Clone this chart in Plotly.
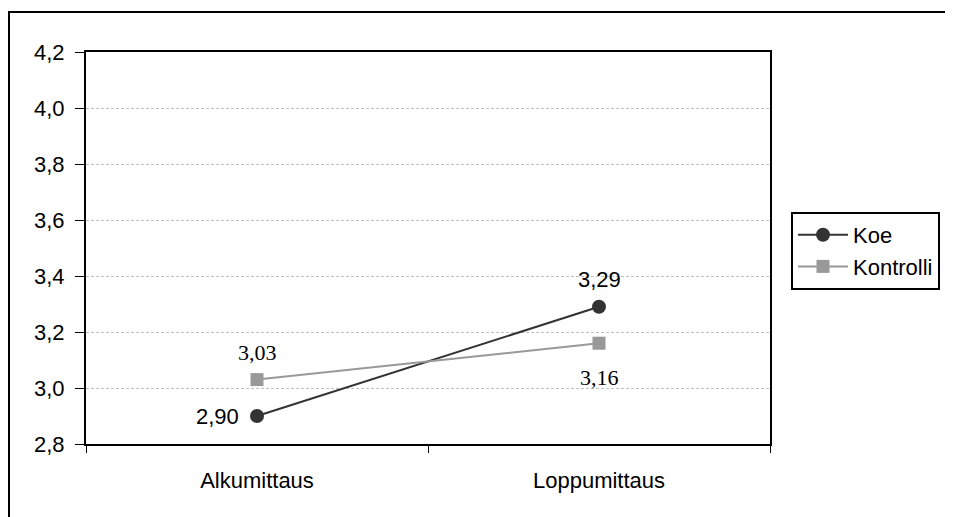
import plotly.graph_objects as go

categories = ["Alkumittaus", "Loppumittaus"]
koe = [2.90, 3.29]
kontrolli = [3.03, 3.16]
y_ticks = [2.8, 3.0, 3.2, 3.4, 3.6, 3.8, 4.0, 4.2]

fig = go.Figure()
fig.add_trace(go.Scatter(
    x=categories, y=koe, name="Koe", mode="lines+markers",
    line=dict(color="#333333", width=2),
    marker=dict(symbol="circle", size=14, color="#333333"),
))
fig.add_trace(go.Scatter(
    x=categories, y=kontrolli, name="Kontrolli", mode="lines+markers",
    line=dict(color="#999999", width=2),
    marker=dict(symbol="square", size=13, color="#999999"),
))

def fmt(v):
    return f"{v:.2f}".replace(".", ",")

arial = dict(family="Liberation Sans, Arial", size=22, color="black")
times = dict(family="Liberation Serif, Times New Roman", size=22, color="black")

fig.add_annotation(x=categories[0], y=koe[0], text=fmt(koe[0]), showarrow=False,
                   xanchor="right", xshift=-16, font=arial)
fig.add_annotation(x=categories[1], y=koe[1], text=fmt(koe[1]), showarrow=False,
                   yanchor="bottom", yshift=13, font=arial)
fig.add_annotation(x=categories[0], y=kontrolli[0], text=fmt(kontrolli[0]), showarrow=False,
                   yanchor="bottom", yshift=13, font=times)
fig.add_annotation(x=categories[1], y=kontrolli[1], text=fmt(kontrolli[1]), showarrow=False,
                   yanchor="top", yshift=-20, font=times)

W, H = 953, 517
L, R, T, B = 86, 183, 52, 73
pw, ph = W - L - R, H - T - B

def px_x(p):
    return (p - L) / pw

def px_y(p):
    return (H - B - p) / ph

# outer chart border: only the top and left edges fall inside the frame
fig.add_shape(type="path", xref="paper", yref="paper",
              path=f"M {px_x(9)},{px_y(H)} L {px_x(9)},{px_y(12)} L {px_x(W - 8)},{px_y(12)}",
              line=dict(color="black", width=2))

fig.update_layout(
    width=W, height=H,
    margin=dict(l=L, r=R, t=T, b=B),
    paper_bgcolor="white", plot_bgcolor="white",
    separators=", ",
    font=arial,
    showlegend=True,
    legend=dict(x=px_x(791), y=px_y(212), xanchor="left", yanchor="top",
                bordercolor="black", borderwidth=2, font=arial,
                bgcolor="white", tracegroupgap=2, itemwidth=50),
    xaxis=dict(type="category", range=[-0.5, 1.5], showline=True, linecolor="black",
               linewidth=2, mirror=True, ticks="outside", tickson="boundaries",
               ticklen=7, tickcolor="black", tickwidth=1, showgrid=False,
               ticklabelstandoff=16, tickfont=arial),
    yaxis=dict(range=[2.8, 4.2], tickvals=y_ticks, tickformat=".1f",
               showline=True, linecolor="black", linewidth=2, mirror=True,
               ticks="outside", ticklen=9, tickcolor="black", tickwidth=1,
               showgrid=True, gridcolor="#c0c0c0", gridwidth=1, griddash="3px,2px",
               zeroline=False, tickfont=arial, ticklabelstandoff=6),
)

fig.write_html("out.html")
